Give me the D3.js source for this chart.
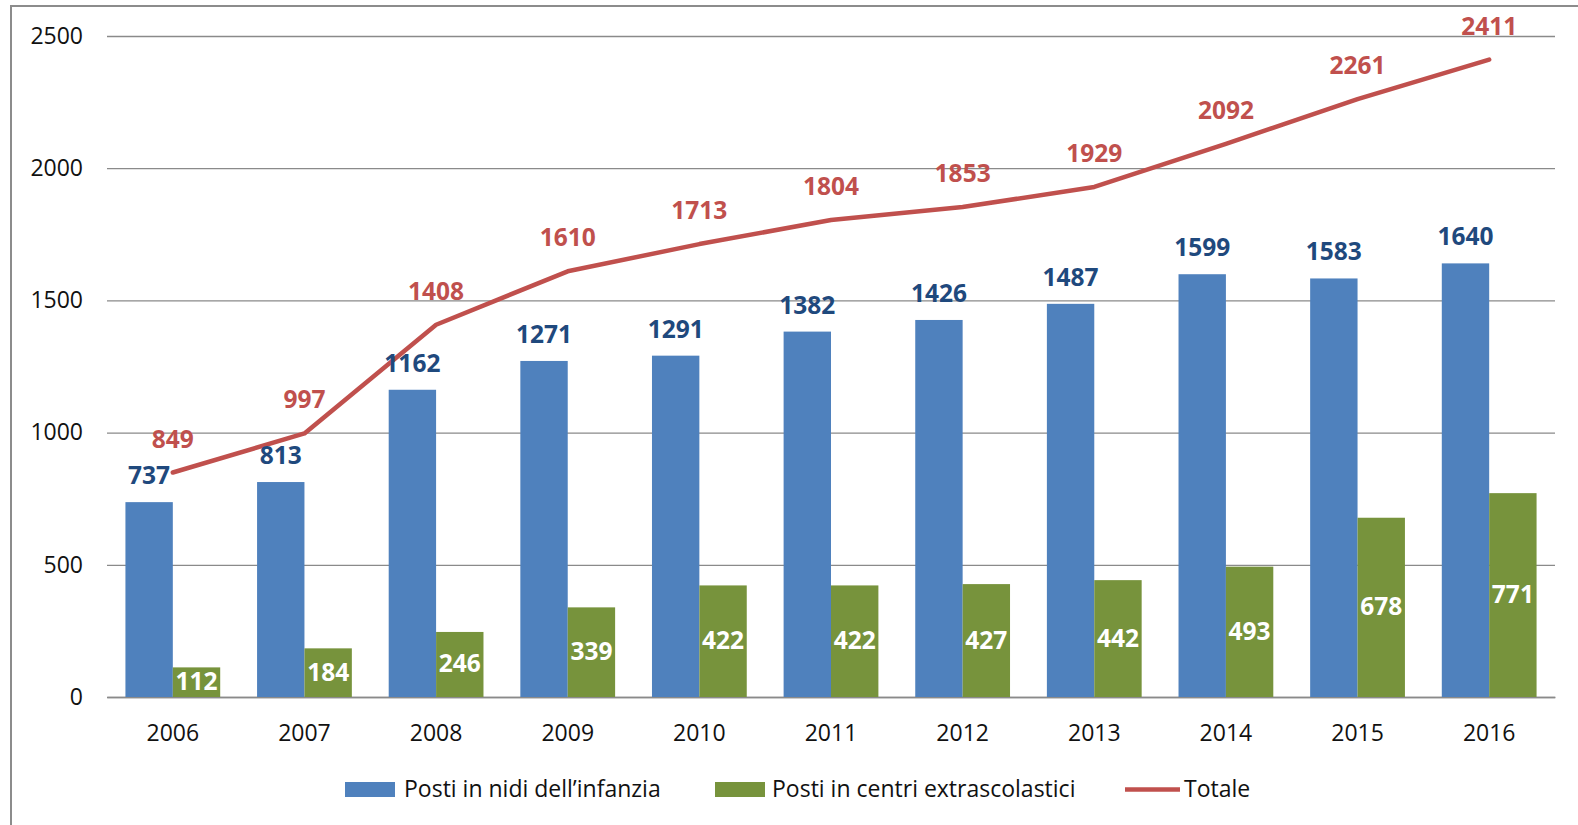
<!DOCTYPE html>
<html>
<head>
<meta charset="utf-8">
<script src="https://cdn.jsdelivr.net/npm/d3@7"></script>
<style>
  html, body { margin: 0; padding: 0; background: #fff; }
  svg { display: block; }
  text { font-family: "Open Sans", "Noto Sans", sans-serif; }
</style>
</head>
<body>
<svg id="chart" width="1578" height="825"></svg>
<script>
const years = ["2006","2007","2008","2009","2010","2011","2012","2013","2014","2015","2016"];
const nidi = [737, 813, 1162, 1271, 1291, 1382, 1426, 1487, 1599, 1583, 1640];
const extra = [112, 184, 246, 339, 422, 422, 427, 442, 493, 678, 771];
const totale = [849, 997, 1408, 1610, 1713, 1804, 1853, 1929, 2092, 2261, 2411];
const yTicks = [0, 500, 1000, 1500, 2000, 2500];
const seriesNames = ["Posti in nidi dell\u2019infanzia", "Posti in centri extrascolastici", "Totale"];

const colBlue = "#4F81BD", colGreen = "#77933C", colRed = "#C0504D";
const svg = d3.select("#chart");

// frame
svg.append("rect").attr("x", 11).attr("y", 6).attr("width", 1600).attr("height", 900)
  .attr("fill", "none").attr("stroke", "#8c8c8c").attr("stroke-width", 2);

const pLeft = 107, pRight = 1555, pTop = 36, pBottom = 697;
const x = d3.scaleBand().domain(years).range([pLeft, pRight]).paddingInner(0.28).paddingOuter(0.14);
const y = d3.scaleLinear().domain([0, 2500]).range([pBottom, pTop]);
const bw = x.bandwidth() / 2;

// gridlines + y labels via axis
const yAxis = d3.axisLeft(y).tickValues(yTicks).tickSize(-(pRight - pLeft)).tickPadding(24).tickFormat(d3.format("d"));
const gy = svg.append("g").attr("transform", `translate(${pLeft},0)`).call(yAxis);
gy.select(".domain").remove();
gy.selectAll(".tick line").attr("stroke", "#8a8a8a").attr("stroke-width", 1.3);
gy.selectAll(".tick text").attr("font-size", 23).attr("fill", "#111")
  .attr("font-family", "'Open Sans', sans-serif");

// x axis
const xAxis = d3.axisBottom(x).tickSize(0).tickPadding(28);
const gx = svg.append("g").attr("transform", `translate(0,${pBottom})`).call(xAxis);
gx.select(".domain").attr("stroke", "#8a8a8a").attr("stroke-width", 1.3);
gx.selectAll(".tick text").attr("font-size", 23).attr("fill", "#111")
  .attr("font-family", "'Open Sans', sans-serif");

// bars
svg.append("g").selectAll("rect").data(years).join("rect")
  .attr("x", d => x(d)).attr("width", bw)
  .attr("y", (d, i) => y(nidi[i])).attr("height", (d, i) => y(0) - y(nidi[i]))
  .attr("fill", colBlue);
svg.append("g").selectAll("rect").data(years).join("rect")
  .attr("x", d => x(d) + bw).attr("width", bw)
  .attr("y", (d, i) => y(extra[i])).attr("height", (d, i) => y(0) - y(extra[i]))
  .attr("fill", colGreen);

// line
const line = d3.line().x((d, i) => x(years[i]) + x.bandwidth() / 2).y(d => y(d));
svg.append("path").datum(totale).attr("d", line)
  .attr("fill", "none").attr("stroke", colRed).attr("stroke-width", 4.5)
  .attr("stroke-linejoin", "round").attr("stroke-linecap", "round");

// labels
const lab = svg.append("g").attr("font-size", 24.5).attr("font-weight", "bold").attr("text-anchor", "middle");
lab.selectAll("text.b").data(years).join("text").attr("class", "b")
  .attr("x", d => x(d) + bw / 2).attr("y", (d, i) => y(nidi[i]) - 18)
  .attr("fill", "#1F497D").text((d, i) => nidi[i]);
lab.selectAll("text.g").data(years).join("text").attr("class", "g")
  .attr("x", d => x(d) + bw * 1.5).attr("y", (d, i) => (y(extra[i]) + y(0)) / 2 + 8)
  .attr("fill", "#fff").text((d, i) => extra[i]);
lab.selectAll("text.r").data(years).join("text").attr("class", "r")
  .attr("x", d => x(d) + x.bandwidth() / 2).attr("y", (d, i) => y(totale[i]) - 25)
  .attr("fill", colRed).text((d, i) => totale[i]);

// legend
const leg = svg.append("g").attr("font-size", 23).attr("fill", "#111");
leg.append("rect").attr("x", 345).attr("y", 782).attr("width", 50).attr("height", 15).attr("fill", colBlue);
leg.append("text").attr("x", 404).attr("y", 797).text(seriesNames[0]);
leg.append("rect").attr("x", 715).attr("y", 782).attr("width", 50).attr("height", 15).attr("fill", colGreen);
leg.append("text").attr("x", 772).attr("y", 797).text(seriesNames[1]);
leg.append("line").attr("x1", 1125).attr("x2", 1180).attr("y1", 789.5).attr("y2", 789.5)
  .attr("stroke", colRed).attr("stroke-width", 4.5);
leg.append("text").attr("x", 1184).attr("y", 797).text(seriesNames[2]);
</script>
</body>
</html>
